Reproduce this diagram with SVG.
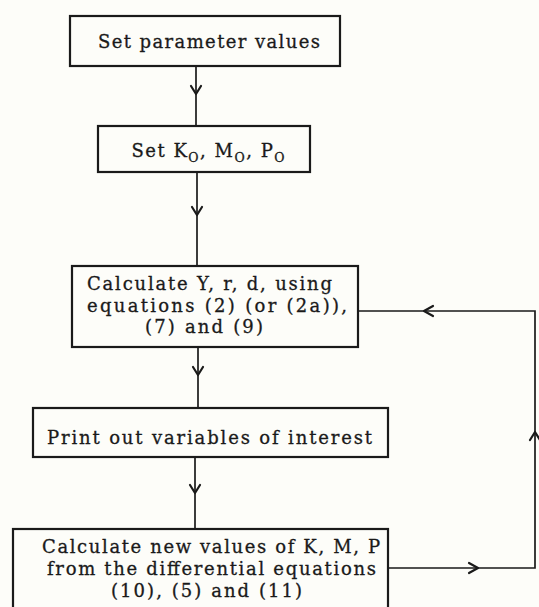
<svg xmlns="http://www.w3.org/2000/svg" width="539" height="607" viewBox="0 0 539 607">
<style>
.box{fill:none;stroke:#1a1a1a;stroke-width:2.2}
.ln{fill:none;stroke:#1a1a1a;stroke-width:1.7}
.ah{fill:none;stroke:#1a1a1a;stroke-width:2.2;stroke-linecap:round;stroke-linejoin:round}
text{font-family:"DejaVu Serif","Liberation Serif",serif;font-size:18px;fill:#1a1a1a;stroke:#1a1a1a;stroke-width:0.3;text-anchor:middle}
.sub{font-size:12.5px}
</style>
<rect width="539" height="607" fill="#fdfdf9"/>
<g id="connectors">
<line class="ln" x1="196" y1="66" x2="196" y2="126"/>
<polyline class="ah" points="191,86 196,94 201,86"/>
<line class="ln" x1="197" y1="172" x2="197" y2="266"/>
<polyline class="ah" points="192,207 197,215 202,207"/>
<line class="ln" x1="198" y1="347" x2="198" y2="408"/>
<polyline class="ah" points="193,367 198,375 203,367"/>
<line class="ln" x1="195" y1="457" x2="195" y2="529"/>
<polyline class="ah" points="190,485 195,493 200,485"/>
<polyline class="ln" points="388,568 535,568 535,311 358,311"/>
<polyline class="ah" points="469,563 478,568 469,573"/>
<polyline class="ah" points="530,440 535,432 540,440"/>
<polyline class="ah" points="433,306 424,311 433,316"/>
</g>
<g id="n1">
<rect class="box" x="70" y="16" width="270" height="50"/>
<text x="209" y="48" textLength="222" lengthAdjust="spacing">Set parameter values</text>
</g>
<g id="n2">
<rect class="box" x="98" y="126" width="212" height="46"/>
<text x="208" y="157" textLength="153" lengthAdjust="spacing">Set K<tspan class="sub" dy="5">O</tspan><tspan dy="-5">, M</tspan><tspan class="sub" dy="5">O</tspan><tspan dy="-5">, P</tspan><tspan class="sub" dy="5">O</tspan></text>
</g>
<g id="n3">
<rect class="box" x="72" y="266" width="286" height="81"/>
<text x="209.5" y="290" textLength="245" lengthAdjust="spacing">Calculate Y, r, d, using</text>
<text x="217" y="312" textLength="260" lengthAdjust="spacing">equations (2) (or (2a)),</text>
<text x="204" y="333" textLength="118" lengthAdjust="spacing">(7) and (9)</text>
</g>
<g id="n4">
<rect class="box" x="33" y="408" width="355" height="49"/>
<text x="209.5" y="444" textLength="325" lengthAdjust="spacing">Print out variables of interest</text>
</g>
<g id="n5">
<rect class="box" x="13" y="529" width="375" height="82"/>
<text x="211" y="553" textLength="338" lengthAdjust="spacing">Calculate new values of K, M, P</text>
<text x="211.5" y="575" textLength="329" lengthAdjust="spacing">from the differential equations</text>
<text x="206.5" y="597" textLength="191" lengthAdjust="spacing">(10), (5) and (11)</text>
</g>
</svg>
